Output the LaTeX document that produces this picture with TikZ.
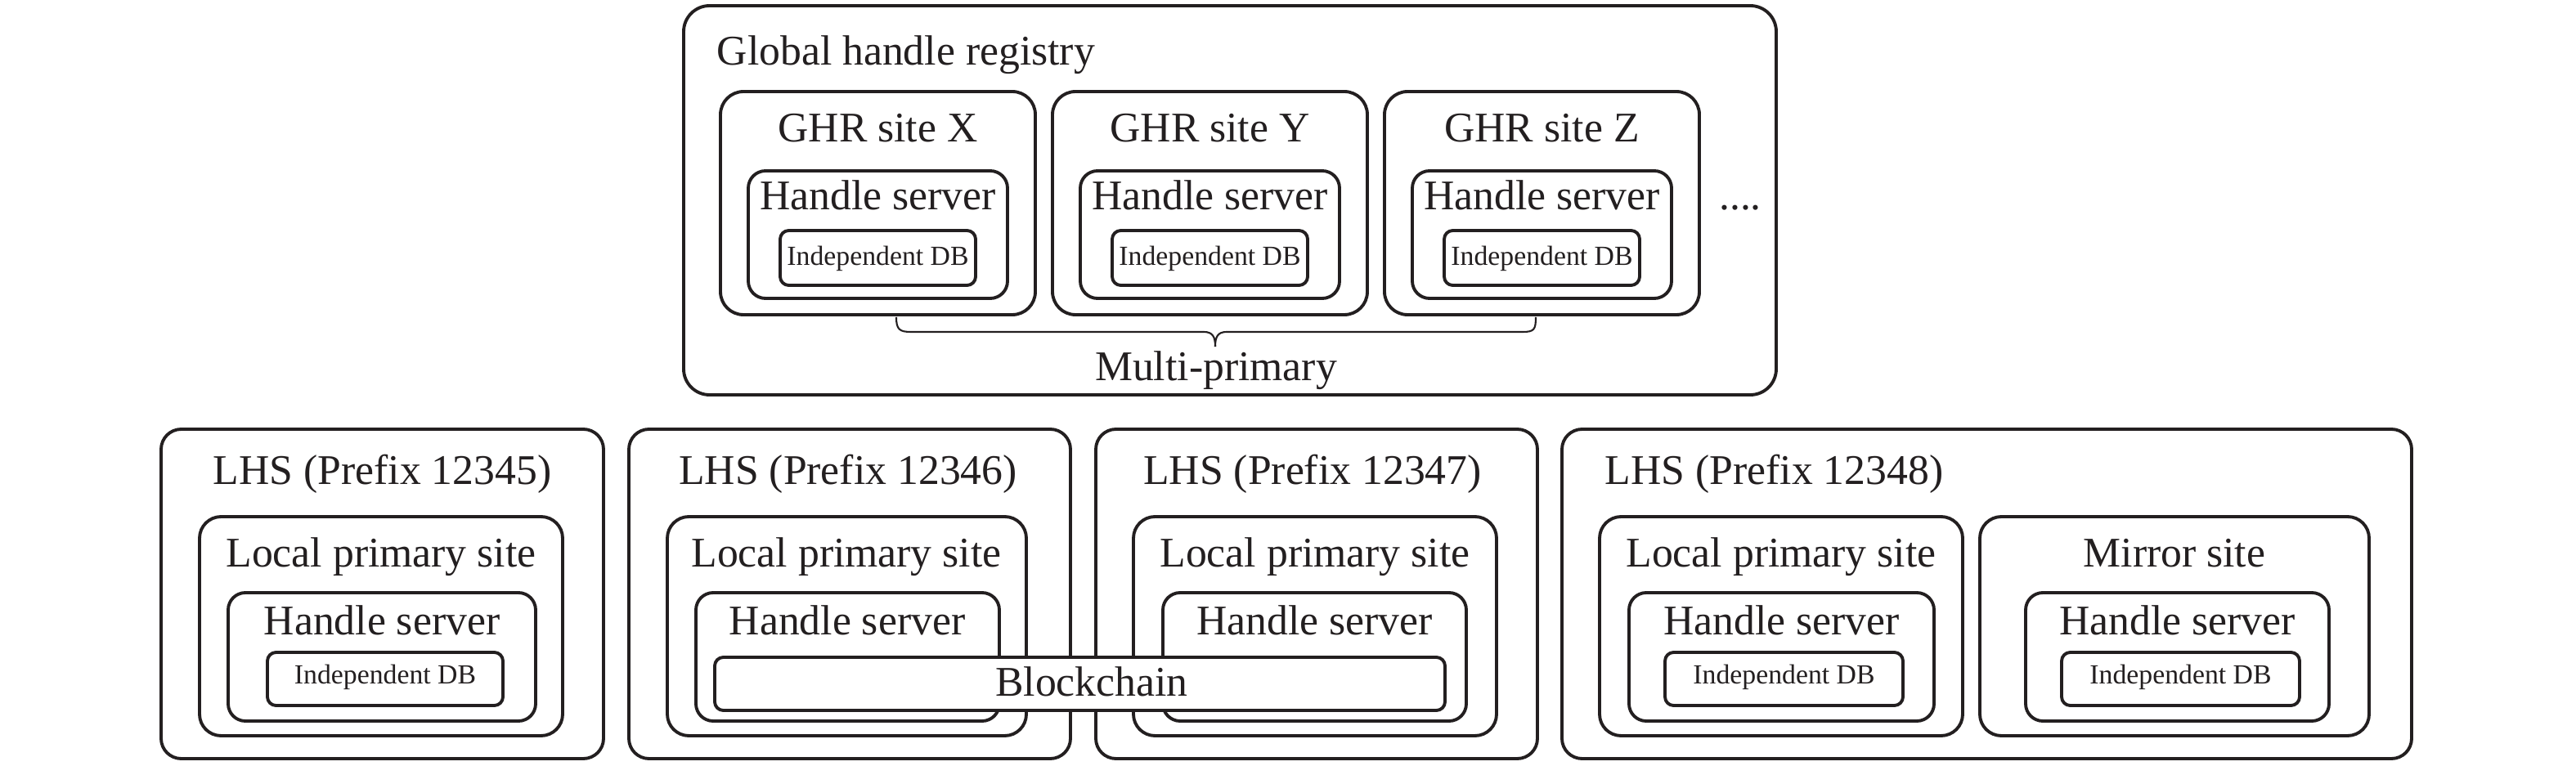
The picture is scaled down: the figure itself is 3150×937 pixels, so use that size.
\documentclass[tikz,border=0pt]{standalone}
\usepackage{fontspec}
\setmainfont{Liberation Serif}
\usetikzlibrary{fit}
\definecolor{ink}{HTML}{231F20}
\tikzset{
  frame/.style={draw=ink, line width=1.1pt, rounded corners=#1, inner sep=0pt, fill=white},
  frame/.default=7pt,
  big/.style={font=\fontsize{14.7}{17}\selectfont, text=ink, anchor=base, inner sep=0pt},
  small/.style={font=\fontsize{9.6}{11}\selectfont, text=ink, anchor=base, inner sep=0pt},
  bracestyle/.style={draw=ink, line width=0.6pt},
}
\begin{document}
\begin{tikzpicture}[x=0.01cm, y=-0.01cm]
\useasboundingbox (0,0) rectangle (3150,937);

% ---------- Global handle registry ----------
\node[frame=9pt, fit={(836,7) (2172,483)}] (ghr) {};
\node[big, anchor=base west] (ghrtitle) at (876,80) {Global handle registry};

\foreach \s/\n/\l in {881/x/X, 1287/y/Y, 1693/z/Z}{
  \node[frame=8pt, fit={(\s,112) (\s+385,385)}] (site\n) {};
  \node[big] (site\n t) at (\s+192.5,174) {GHR site \l};
  \node[frame=6pt, fit={(\s+34,209) (\s+351,365)}] (hs\n) {};
  \node[big] (hs\n t) at (\s+192.5,257) {Handle server};
  \node[frame=3pt, fit={(\s+73,282) (\s+312,349)}] (db\n) {};
  \node[small] (db\n t) at (\s+192.5,325) {Independent DB};
}
\node[big] (dots) at (2128,257) {....};

% brace
\draw[bracestyle] (1096,388) .. controls (1096,403) and (1100,406) .. (1114,406)
  -- (1472,406) .. controls (1483,406) and (1486,412) .. (1486,424);
\draw[bracestyle] (1486,424) .. controls (1486,412) and (1489,406) .. (1500,406)
  -- (1862,406) .. controls (1876,406) and (1878,403) .. (1878,388);
\node[big] (multi) at (1487,466) {Multi-primary};

% ---------- LHS 12345 ----------
\node[frame=7pt, fit={(197,525) (738,928)}] (lhsa) {};
\node[big] (lhsat) at (467.5,593) {LHS (Prefix 12345)};
\node[frame=7.5pt, fit={(244,632) (688,900)}] (lpsa) {};
\node[big] (lpsat) at (466,693) {Local primary site};
\node[frame=6pt, fit={(279,725) (655,882)}] (hsa) {};
\node[big] (hsat) at (467,777) {Handle server};
\node[frame=3pt, fit={(327,798) (615,863)}] (dba) {};
\node[small] (dbat) at (471,837) {Independent DB};

% ---------- LHS 12346 ----------
\node[frame=7pt, fit={(769,525) (1309,928)}] (lhsb) {};
\node[big] (lhsbt) at (1037,593) {LHS (Prefix 12346)};
\node[frame=7.5pt, fit={(816,632) (1255,900)}] (lpsb) {};
\node[big] (lpsbt) at (1035,693) {Local primary site};
\node[frame=6pt, fit={(851,725) (1222,882)}] (hsb) {};
\node[big] (hsbt) at (1036,777) {Handle server};

% ---------- LHS 12347 ----------
\node[frame=7pt, fit={(1340,525) (1880,928)}] (lhsc) {};
\node[big] (lhsct) at (1605,593) {LHS (Prefix 12347)};
\node[frame=7.5pt, fit={(1386,632) (1830,900)}] (lpsc) {};
\node[big] (lpsct) at (1608,693) {Local primary site};
\node[frame=6pt, fit={(1422,725) (1793,882)}] (hsc) {};
\node[big] (hsct) at (1607.5,777) {Handle server};

% ---------- Blockchain ----------
\node[frame=3pt, fit={(874,804) (1767,869)}] (chain) {};
\node[big] (chaint) at (1335,851) {Blockchain};

% ---------- LHS 12348 ----------
\node[frame=7pt, fit={(1910,525) (2949,928)}] (lhsd) {};
\node[big, anchor=base west] (lhsdt) at (1962,593) {LHS (Prefix 12348)};
\node[frame=7.5pt, fit={(1956,632) (2400,900)}] (lpsd) {};
\node[big] (lpsdt) at (2178,693) {Local primary site};
\node[frame=6pt, fit={(1992,725) (2365,882)}] (hsd) {};
\node[big] (hsdt) at (2178.5,777) {Handle server};
\node[frame=3pt, fit={(2036,798) (2327,863)}] (dbd) {};
\node[small] (dbdt) at (2181.5,837) {Independent DB};

\node[frame=7.5pt, fit={(2421,632) (2897,900)}] (mir) {};
\node[big] (mirt) at (2659,693) {Mirror site};
\node[frame=6pt, fit={(2477,725) (2848,882)}] (hse) {};
\node[big] (hset) at (2662.5,777) {Handle server};
\node[frame=3pt, fit={(2521,798) (2812,863)}] (dbe) {};
\node[small] (dbet) at (2666.5,837) {Independent DB};
\end{tikzpicture}
\end{document}
